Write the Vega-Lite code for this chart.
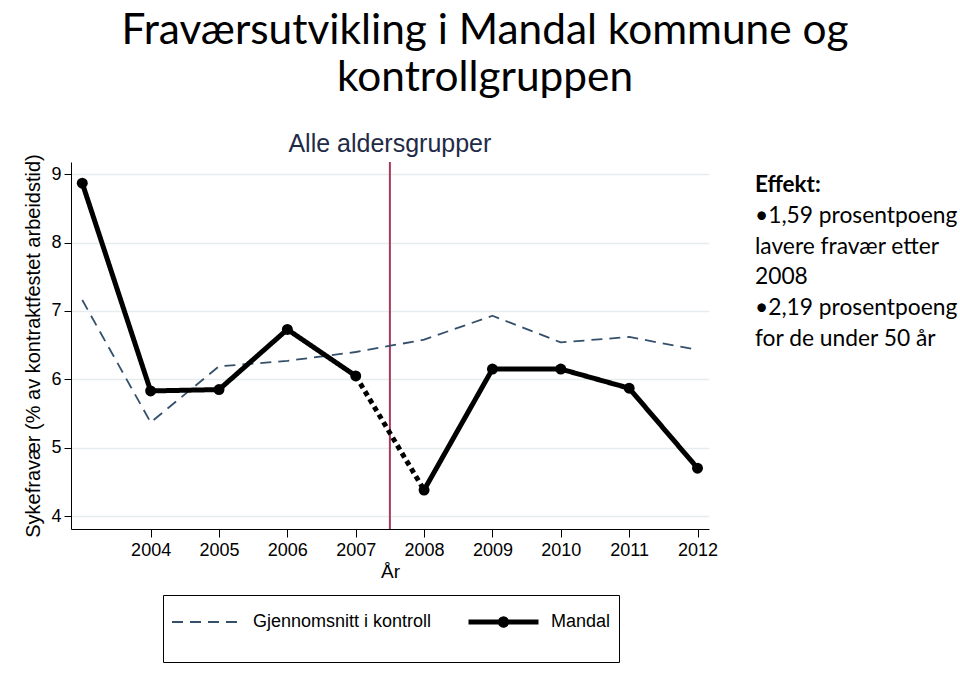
{
  "$schema": "https://vega.github.io/schema/vega-lite/v6.json",
  "width": 638,
  "height": 367,
  "autosize": {"type": "none"},
  "padding": {"left": 71, "top": 162, "right": 251, "bottom": 161},
  "background": "white",
  "title": {
    "text": ["Fraværsutvikling i Mandal kommune og", "kontrollgruppen"],
    "anchor": "middle",
    "frame": "group",
    "dx": 95,
    "offset": 32,
    "font": "Lato",
    "fontSize": 42.4,
    "fontWeight": "normal",
    "color": "black",
    "lineHeight": 47
  },
  "data": {
    "values": [
      {"year": 2003, "value": 7.16, "series": "Gjennomsnitt i kontroll", "part": "hel"},
      {"year": 2004, "value": 5.37, "series": "Gjennomsnitt i kontroll", "part": "hel"},
      {"year": 2005, "value": 6.19, "series": "Gjennomsnitt i kontroll", "part": "hel"},
      {"year": 2006, "value": 6.27, "series": "Gjennomsnitt i kontroll", "part": "hel"},
      {"year": 2007, "value": 6.40, "series": "Gjennomsnitt i kontroll", "part": "hel"},
      {"year": 2008, "value": 6.58, "series": "Gjennomsnitt i kontroll", "part": "hel"},
      {"year": 2009, "value": 6.93, "series": "Gjennomsnitt i kontroll", "part": "hel"},
      {"year": 2010, "value": 6.54, "series": "Gjennomsnitt i kontroll", "part": "hel"},
      {"year": 2011, "value": 6.62, "series": "Gjennomsnitt i kontroll", "part": "hel"},
      {"year": 2012, "value": 6.43, "series": "Gjennomsnitt i kontroll", "part": "hel"},
      {"year": 2003, "value": 8.87, "series": "Mandal", "part": "før"},
      {"year": 2004, "value": 5.83, "series": "Mandal", "part": "før"},
      {"year": 2005, "value": 5.85, "series": "Mandal", "part": "før"},
      {"year": 2006, "value": 6.73, "series": "Mandal", "part": "før"},
      {"year": 2007, "value": 6.05, "series": "Mandal", "part": "før"},
      {"year": 2007, "value": 6.05, "series": "Mandal", "part": "overgang"},
      {"year": 2008, "value": 4.38, "series": "Mandal", "part": "overgang"},
      {"year": 2008, "value": 4.38, "series": "Mandal", "part": "etter"},
      {"year": 2009, "value": 6.15, "series": "Mandal", "part": "etter"},
      {"year": 2010, "value": 6.15, "series": "Mandal", "part": "etter"},
      {"year": 2011, "value": 5.87, "series": "Mandal", "part": "etter"},
      {"year": 2012, "value": 4.70, "series": "Mandal", "part": "etter"}
    ]
  },
  "layer": [
    {
      "data": {"values": [{"cut": 2007.5}]},
      "mark": {"type": "rule", "color": "#a8385f", "strokeWidth": 2},
      "encoding": {"x": {"field": "cut", "type": "quantitative"}}
    },
    {
      "transform": [{"filter": "datum.part !== 'overgang'"}],
      "mark": {"type": "line", "strokeCap": "butt", "strokeJoin": "round"},
      "encoding": {
        "x": {
          "field": "year",
          "type": "quantitative",
          "scale": {"domain": [2002.835, 2012.168], "nice": false, "zero": false},
          "axis": {
            "values": [2004, 2005, 2006, 2007, 2008, 2009, 2010, 2011, 2012],
            "format": "d",
            "title": "År",
            "grid": false,
            "domainColor": "black",
            "tickColor": "black",
            "tickSize": 8,
            "labelFont": "Liberation Sans",
            "labelFontSize": 18,
            "labelColor": "black",
            "labelPadding": 4,
            "labelFlush": false,
            "labelOverlap": false,
            "titleFont": "Liberation Sans",
            "titleFontSize": 19,
            "titleFontWeight": "normal",
            "titleColor": "black",
            "titlePadding": 3
          }
        },
        "y": {
          "field": "value",
          "type": "quantitative",
          "scale": {"domain": [3.81, 9.18], "nice": false, "zero": false},
          "axis": {
            "values": [4, 5, 6, 7, 8, 9],
            "format": "d",
            "title": "Sykefravær (% av kontraktfestet arbeidstid)",
            "grid": true,
            "gridColor": "#e5edf0",
            "gridWidth": 1.5,
            "domainColor": "black",
            "tickColor": "black",
            "tickSize": 7,
            "labelFont": "Liberation Sans",
            "labelFontSize": 18,
            "labelColor": "black",
            "labelPadding": 3,
            "titleFont": "Liberation Sans",
            "titleFontSize": 20,
            "titleFontWeight": "normal",
            "titleColor": "black",
            "titlePadding": 7
          }
        },
        "color": {
          "field": "series",
          "type": "nominal",
          "scale": {"domain": ["Gjennomsnitt i kontroll", "Mandal"], "range": ["#34506b", "black"]},
          "legend": {
            "orient": "none",
            "legendX": 92,
            "legendY": 433,
            "direction": "horizontal",
            "title": " ",
            "titleOrient": "bottom",
            "titleFontSize": 11,
            "titlePadding": 2,
            "padding": 8,
            "strokeColor": "black",
            "fillColor": "white",
            "symbolSize": 4900,
            "clipHeight": 38,
            "labelOffset": 10,
            "columnPadding": 34,
            "labelFont": "Liberation Sans",
            "labelFontSize": 18,
            "labelColor": "black",
            "labelLimit": 300,
            "encode": {
              "symbols": {
                "update": {
                  "shape": [
                    {"test": "datum.value === 'Mandal'", "value": "M-1,0H1M0.09,0A0.09,0.09,0,1,1,-0.09,0A0.09,0.09,0,1,1,0.09,0Z"},
                    {"value": "stroke"}
                  ],
                  "strokeWidth": [{"test": "datum.value === 'Mandal'", "value": 5}, {"value": 1.8}],
                  "strokeDash": [{"test": "datum.value === 'Mandal'", "value": [1, 0]}, {"value": [11, 7]}],
                  "fill": [{"test": "datum.value === 'Mandal'", "value": "black"}, {"value": "transparent"}],
                  "stroke": [{"test": "datum.value === 'Mandal'", "value": "black"}, {"value": "#34506b"}],
                  "opacity": {"value": 1}
                }
              }
            }
          }
        },
        "strokeDash": {
          "field": "series",
          "type": "nominal",
          "scale": {"domain": ["Gjennomsnitt i kontroll", "Mandal"], "range": [[11, 7], [1, 0]]},
          "legend": null
        },
        "strokeWidth": {
          "field": "series",
          "type": "nominal",
          "scale": {"domain": ["Gjennomsnitt i kontroll", "Mandal"], "range": [1.8, 5]},
          "legend": null
        },
        "detail": {"field": "part"}
      }
    },
    {
      "transform": [{"filter": "datum.part === 'overgang'"}],
      "mark": {"type": "line", "color": "black", "strokeWidth": 5, "strokeDash": [5, 4], "strokeCap": "butt"},
      "encoding": {
        "x": {"field": "year", "type": "quantitative"},
        "y": {"field": "value", "type": "quantitative"}
      }
    },
    {
      "transform": [{"filter": "datum.series === 'Mandal' && datum.part !== 'overgang'"}],
      "mark": {"type": "point", "filled": true, "color": "black", "opacity": 1, "size": 120},
      "encoding": {
        "x": {"field": "year", "type": "quantitative"},
        "y": {"field": "value", "type": "quantitative"}
      }
    },
    {
      "data": {"values": [{"label": "Alle aldersgrupper", "px": 2007.5, "py": 9.326}]},
      "mark": {"type": "text", "font": "Liberation Sans", "fontSize": 25, "color": "#1f2b46", "align": "center", "baseline": "alphabetic"},
      "encoding": {
        "x": {"field": "px", "type": "quantitative"},
        "y": {"field": "py", "type": "quantitative"},
        "text": {"field": "label"}
      }
    },
    {
      "data": {"values": [{"label": "Effekt:", "px": 2012.84, "py": 8.741}]},
      "mark": {"type": "text", "font": "Lato", "fontSize": 22.5, "fontWeight": "bold", "color": "black", "align": "left", "baseline": "alphabetic"},
      "encoding": {
        "x": {"field": "px", "type": "quantitative"},
        "y": {"field": "py", "type": "quantitative"},
        "text": {"field": "label"}
      }
    },
    {
      "data": {"values": [
        {"label": "•1,59 prosentpoeng", "px": 2012.84, "py": 8.287},
        {"label": "lavere fravær etter", "px": 2012.84, "py": 7.839},
        {"label": "2008", "px": 2012.84, "py": 7.391},
        {"label": "•2,19 prosentpoeng", "px": 2012.84, "py": 6.943},
        {"label": "for de under 50 år", "px": 2012.84, "py": 6.495}
      ]},
      "mark": {"type": "text", "font": "Lato", "fontSize": 22.8, "color": "black", "align": "left", "baseline": "alphabetic"},
      "encoding": {
        "x": {"field": "px", "type": "quantitative"},
        "y": {"field": "py", "type": "quantitative"},
        "text": {"field": "label"}
      }
    }
  ],
  "config": {
    "view": {"stroke": null},
    "font": "Liberation Sans"
  }
}
